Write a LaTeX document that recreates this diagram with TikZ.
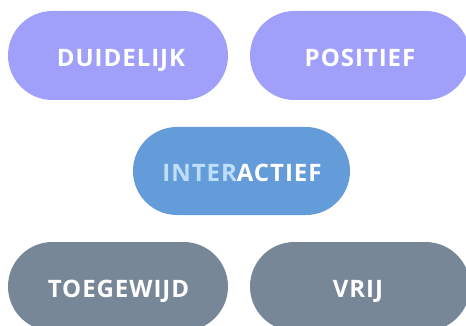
\documentclass[tikz,border=0pt]{standalone}
\usepackage{fontspec}
\newfontfamily\pillfont{Open Sans}[LetterSpace=4]
\definecolor{lavender}{RGB}{160,160,250}
\definecolor{skyblue}{RGB}{100,155,217}
\definecolor{slate}{RGB}{119,135,151}
\definecolor{paleblue}{RGB}{190,222,252}
\tikzset{
  pill/.style={rectangle, rounded corners=44.5pt, minimum width=220pt,
    minimum height=89pt, inner sep=0pt},
  caption/.style={inner sep=0pt, text=white, anchor=base,
    font=\pillfont\bfseries\fontsize{24}{28}\selectfont}
}
\begin{document}
\begin{tikzpicture}[x=1pt,y=-1pt]
  \useasboundingbox (0,0) rectangle (466,326);
  \clip (0,0) rectangle (466,326);
  % top row
  \node[pill, fill=lavender] (duidelijk) at (118,55.5) {};
  \node[pill, fill=lavender] (positief) at (360,55.5) {};
  % middle
  \node[pill, fill=skyblue, minimum width=217pt, minimum height=88pt, rounded corners=44pt]
    (interactief) at (241.5,171) {};
  % bottom row
  \node[pill, fill=slate] (toegewijd) at (118,286.5) {};
  \node[pill, fill=slate] (vrij) at (360,286.5) {};
  % labels, placed by their baselines
  \node[caption] (t1) at (121,66.5) {DUIDELIJK};
  \node[caption] (t2) at (360,66.5) {POSITIEF};
  \node[caption] (t3) at (242,181.5) {\textcolor{paleblue}{INTER}ACTIEF};
  \node[caption] (t4) at (118.5,297.5) {TOEGEWIJD};
  \node[caption] (t5) at (358,297.5) {VRIJ};
\end{tikzpicture}
\end{document}
